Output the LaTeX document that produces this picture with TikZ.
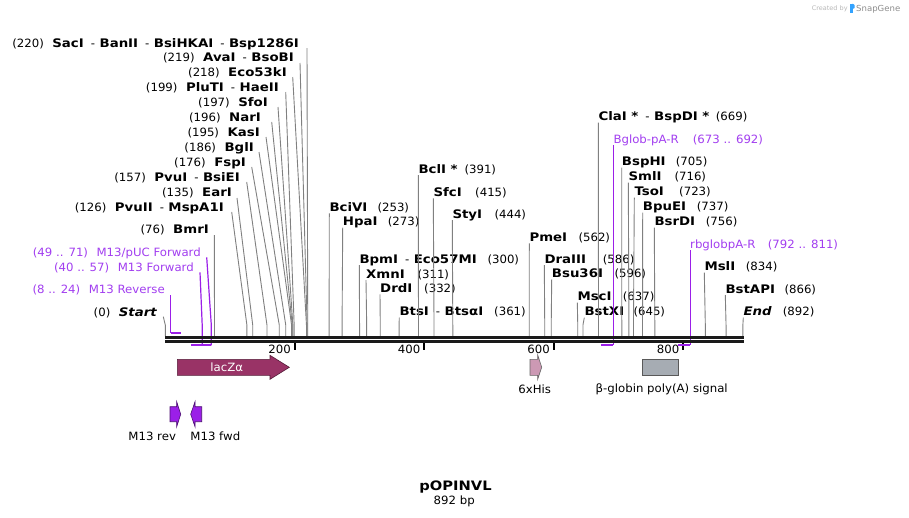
\documentclass[tikz,border=0pt]{standalone}
\usepackage{fontspec}
\setmainfont{DejaVu Sans}[ItalicFont={DejaVu Sans Oblique},BoldFont={DejaVu Sans Bold},BoldItalicFont={DejaVu Sans Bold Oblique},UprightFeatures={FakeStretch=1.03},BoldFeatures={FakeStretch=1.13},BoldItalicFeatures={FakeStretch=1.13}]
\definecolor{enzc}{RGB}{128,128,128}
\definecolor{primc}{RGB}{155,31,232}
\definecolor{ptxt}{RGB}{162,62,240}
\definecolor{laczc}{RGB}{153,51,102}
\definecolor{hisc}{RGB}{204,153,180}
\definecolor{globc}{RGB}{166,172,179}
\definecolor{bbc}{RGB}{26,26,26}
\newcommand\rf{\fontsize{11.4}{13}\selectfont}
\newcommand\nm[1]{{\fontsize{11.8}{13}\selectfont\bfseries #1}}
\newcommand\nmi[1]{{\fontsize{11.8}{13}\selectfont\bfseries\itshape #1}}
\newcommand\gapp{\hspace{8.5pt}}
\newcommand\dsh{\hspace{7pt}-\hspace{4.5pt}}
\newcommand\LS[7]{%
  \node[lbl] (L#1) at ({#2},{#3+4}) {#7};
  \coordinate (Ls#1) at ({#4},{#5});
  \coordinate (Lk#1) at ({165.3+0.6475*#6},325);
  \coordinate (Lb#1) at ({165.3+0.6475*#6},336);
  \draw[enz] (Ls#1) -- (Lk#1) -- (Lb#1);}
\newcommand\RS[7]{%
  \node[rlbl] (R#1) at ({#7},{#3+4}) {#5};
  \node[rlbl] (N#1) at ({#4},{#3+4}) {#6};
  \coordinate (Rt#1) at ({#7},{#3+6});
  \coordinate (Rk#1) at ({165.3+0.6475*#2},325);
  \coordinate (Rb#1) at ({165.3+0.6475*#2},336);
  \draw[enz] (Rt#1) -- (Rk#1) -- (Rb#1);}
\begin{document}
\begin{tikzpicture}[x=1pt,y=-1pt,
  lbl/.style={anchor=base east,inner sep=0pt,font=\rf},
  rlbl/.style={anchor=base west,inner sep=0pt,font=\rf},
  enz/.style={draw=enzc,line width=0.9pt},
  prim/.style={draw=primc,line width=2pt},
  bb/.style={draw=bbc,line width=2.7pt},
  tickm/.style={draw=black,line width=1.8pt},
  feat/.style={line width=0.6pt}]
\useasboundingbox[fill=white] (0,0) rectangle (909,517);

% left cluster
\LS{1}{299}{43}{307}{48}{220}{(220)\gapp\nm{SacI}\dsh\nm{BanII}\dsh\nm{BsiHKAI}\dsh\nm{Bsp1286I}}
\LS{2}{294}{57}{300}{63}{219}{(219)\gapp\nm{AvaI}\dsh\nm{BsoBI}}
\LS{3}{287}{72}{292.7}{77}{218}{(218)\gapp\nm{Eco53kI}}
\LS{4}{279}{87}{285.7}{92}{199}{(199)\gapp\nm{PluTI}\dsh\nm{HaeII}}
\LS{5}{268}{102}{278}{107}{197}{(197)\gapp\nm{SfoI}}
\LS{6}{261}{117}{271.7}{122}{196}{(196)\gapp\nm{NarI}}
\LS{7}{260}{132}{266}{137}{195}{(195)\gapp\nm{KasI}}
\LS{8}{254}{147}{259}{152}{186}{(186)\gapp\nm{BglI}}
\LS{9}{246}{162}{251.7}{167}{176}{(176)\gapp\nm{FspI}}
\LS{10}{240}{177}{246.7}{182}{157}{(157)\gapp\nm{PvuI}\dsh\nm{BsiEI}}
\LS{11}{232}{192}{237}{198}{135}{(135)\gapp\nm{EarI}}
\LS{12}{224}{207}{231.7}{212}{126}{(126)\gapp\nm{PvuII}\dsh\nm{MspA1I}}
\LS{13}{209}{229}{214.3}{235}{76}{(76)\gapp\nm{BmrI}}
\LS{14}{157}{312}{163.3}{316.7}{0}{(0)\gapp\nmi{Start}}

% right cluster
\RS{1}{253}{207.3}{377.3}{\nm{BciVI}}{(253)}{329.3}
\RS{2}{273}{221.7}{387.7}{\nm{HpaI}}{(273)}{342.7}
\RS{3}{300}{259}{487.3}{\nm{BpmI}\dsh\nm{Eco57MI}}{(300)}{359.3}
\RS{4}{311}{274}{417.3}{\nm{XmnI}}{(311)}{366}
\RS{5}{332}{288.3}{424}{\nm{DrdI}}{(332)}{380}
\RS{6}{361}{311.7}{494}{\nm{BtsI}\dsh\nm{BtsαI}}{(361)}{399.3}
\RS{7}{391}{169}{464.3}{\nm{BclI *}}{(391)}{418.3}
\RS{8}{415}{192.3}{475}{\nm{SfcI}}{(415)}{433.3}
\RS{9}{444}{214}{494.3}{\nm{StyI}}{(444)}{452.3}
\RS{10}{562}{237.3}{578.3}{\nm{PmeI}}{(562)}{529.3}
\RS{11}{586}{259}{602.7}{\nm{DraIII}}{(586)}{544.3}
\RS{12}{596}{273.3}{614.3}{\nm{Bsu36I}}{(596)}{551.7}
\RS{13}{637}{296.7}{622.7}{\nm{MscI}}{(637)}{577.3}
\RS{14}{645}{311.7}{633.3}{\nm{BstXI}}{(645)}{584.3}
\RS{15}{669}{116.7}{715.7}{\nm{ClaI *}\dsh\nm{BspDI *}}{(669)}{598.3}
\RS{16}{705}{161.7}{675.7}{\nm{BspHI}}{(705)}{621.7}
\RS{17}{716}{176.7}{674.3}{\nm{SmlI}}{(716)}{628.3}
\RS{18}{723}{191.7}{679}{\nm{TsoI}}{(723)}{634.3}
\RS{19}{737}{206.7}{696.7}{\nm{BpuEI}}{(737)}{642.7}
\RS{20}{756}{221.7}{705.7}{\nm{BsrDI}}{(756)}{654.3}
\RS{21}{834}{266.7}{745.7}{\nm{MslI}}{(834)}{704.3}
\RS{22}{866}{289}{784.3}{\nm{BstAPI}}{(866)}{725.3}
\RS{23}{892}{311.7}{782.7}{\nmi{End}}{(892)}{743.3}

% primers (left)
\node[lbl,text=ptxt] (P1) at (201,256) {(49 .. 71)\gapp M13/pUC Forward};
\node[lbl,text=ptxt] (P2) at (194,271) {(40 .. 57)\gapp M13 Forward};
\node[lbl,text=ptxt] (P3) at (165,293) {(8 .. 24)\gapp M13 Reverse};
\coordinate (P1s) at (206.7,257.3);
\coordinate (P1k) at (211.3,325);
\coordinate (P1b) at (211.3,345.3);
\coordinate (P1e) at ({165.3+0.6475*49},345.3);
\coordinate (P2s) at (200,272.3);
\coordinate (P2k) at (202.2,325);
\coordinate (P2b) at (202.2,345.3);
\coordinate (P2e) at ({165.3+0.6475*40},345.3);
\coordinate (P3s) at (170.5,295);
\coordinate (P3b) at (170.5,332.7);
\coordinate (P3e) at ({165.3+0.6475*24},332.7);
\draw[prim,line width=1.2pt] (P1s) -- (P1k) -- (P1b);
\draw[prim] (P1e) -- (P1b);
\draw[prim,line width=1.2pt] (P2s) -- (P2k) -- (P2b);
\draw[prim] (P2e) -- (P2b);
\draw[prim,line width=1.2pt] (P3s) -- (P3b);
\draw[prim] (P3b) -- (P3e);

% primers (right)
\node[rlbl,text=ptxt] (P4) at (613.3,143) {Bglob-pA-R};
\node[rlbl,text=ptxt] (P4n) at (692.7,143) {(673 .. 692)};
\node[rlbl,text=ptxt] (P5) at (690,248) {rbglobpA-R};
\node[rlbl,text=ptxt] (P5n) at (767.7,248) {(792 .. 811)};
\coordinate (P4s) at (613.3,145);
\coordinate (P4b) at (613.3,345.3);
\coordinate (P4e) at ({165.3+0.6475*673},345.3);
\coordinate (P5s) at (690.3,250);
\coordinate (P5b) at (690.3,345.3);
\coordinate (P5e) at ({165.3+0.6475*792},345.3);

% ticks
\foreach \t in {200,400,600,800}{
  \coordinate (Tt\t) at ({165.3+0.6475*\t},342.5);
  \coordinate (Tb\t) at ({165.3+0.6475*\t},350);
  \draw[tickm] (Tt\t) -- (Tb\t);
  \node[lbl] (TL\t) at ({165.3+0.6475*\t-3.8},353) {\t};
}

\draw[prim,line width=1.2pt] (P4s) -- (P4b);
\draw[prim] (P4e) -- (P4b);
\draw[prim,line width=1.2pt] (P5s) -- (P5b);
\draw[prim] (P5e) -- (P5b);

% backbone
\coordinate (BB1) at (165,337.3);
\coordinate (BB2) at (743.8,337.3);
\coordinate (BB3) at (165,341.7);
\coordinate (BB4) at (743.8,341.7);
\draw[bb] (BB1) -- (BB2);
\draw[bb] (BB3) -- (BB4);

% features
\draw[feat,fill=laczc,draw=laczc!55!black] (177.3,359.3) -- (270,359.3) -- (270,355.3) -- (289.3,367.3) -- (270,379.3) -- (270,375.3) -- (177.3,375.3) -- cycle;
\node[font=\rf,text=white,inner sep=0pt] (lacz) at (226.7,367.3) {lacZα};

\draw[feat,fill=primc,draw=primc!50!black] (170,406.7) -- (176.7,406.7) -- (176.7,401.7) -- (180.7,414.2) -- (176.7,426.7) -- (176.7,421.7) -- (170,421.7) -- cycle;
\draw[feat,fill=primc,draw=primc!50!black] (201.7,406.7) -- (195,406.7) -- (195,401.7) -- (190.7,414.2) -- (195,426.7) -- (195,421.7) -- (201.7,421.7) -- cycle;
\node[font=\rf,inner sep=0pt] (m13r) at (152.2,436) {M13 rev};
\node[font=\rf,inner sep=0pt] (m13f) at (215.3,436) {M13 fwd};

\draw[feat,fill=hisc,draw=black!60] (530,359.3) -- (537.7,359.3) -- (537.7,355) -- (541.7,367.2) -- (537.7,379.3) -- (537.7,375.3) -- (530,375.3) -- cycle;
\node[font=\rf,inner sep=0pt] (his) at (534.7,389) {6xHis};

\draw[feat,fill=globc,draw=black!65] (642.3,359.3) rectangle (678.3,375.3);
\node[font=\rf,inner sep=0pt] (glob) at (661.7,389) {β-globin poly(A) signal};

% title
\node[font={\fontsize{13}{15}\selectfont\bfseries},inner sep=0pt] (title) at (455.5,486.7) {pOPINVL};
\node[font=\rf,inner sep=0pt] (len) at (454.2,501.7) {892 bp};

% credit
\node[anchor=base west,inner sep=0pt,font={\fontsize{6.3}{7}\selectfont},text=black!28] (cb) at (811.7,10) {Created by};
\fill[blue!45!cyan!80!white] (850,3.5) rectangle (852.5,12.5);
\fill[blue!45!cyan!80!white] (852.5,3.5) -- (854.5,5) -- (854.5,8) -- (852.5,9) -- cycle;
\node[anchor=base west,inner sep=0pt,font={\fontsize{8.3}{9}\selectfont},text=black!45] (sg) at (856,11) {SnapGene};
\end{tikzpicture}
\end{document}
